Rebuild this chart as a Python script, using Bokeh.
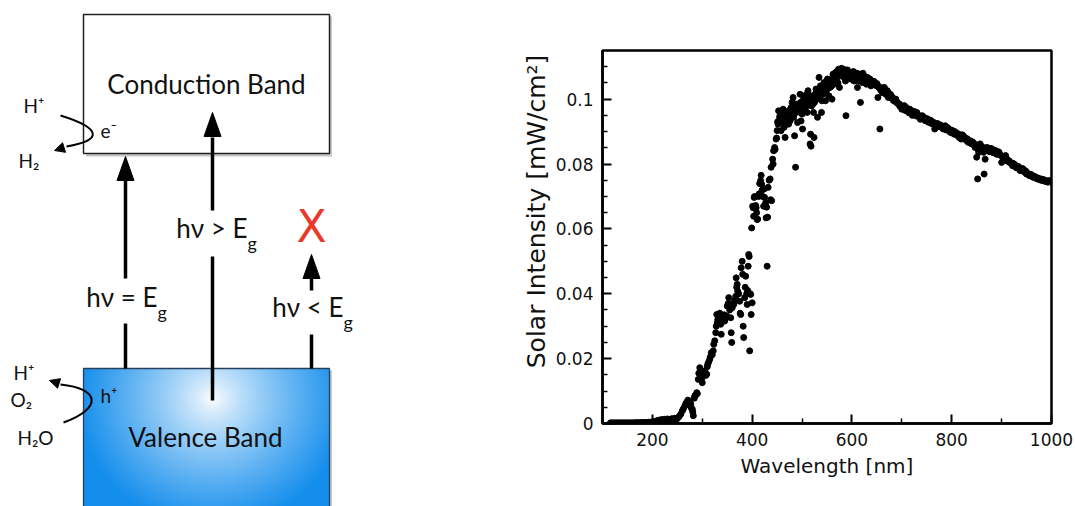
import numpy as np
from bokeh.plotting import figure
from bokeh.layouts import row
from bokeh.models import Range1d, FixedTicker
from bokeh.core.properties import value
from bokeh.embed import file_html
from bokeh.resources import INLINE

# ---------------- chart data ----------------
A_nm = [116, 120, 124, 128, 132, 136, 140, 144, 148, 152,
        156, 160, 164, 168, 172, 176, 180, 184, 188, 192,
        196, 200, 204, 208, 212, 215, 218, 221, 224, 227,
        230, 233, 236, 239, 242, 245, 248, 251, 254]
A_val = [0.0002, 0.0002, 0.0002, 0.0002, 0.0002, 0.0002, 0.0002, 0.0002, 0.0002, 0.0002,
         0.0002, 0.0002, 0.0002, 0.0003, 0.0002, 0.0003, 0.0003, 0.0003, 0.0003, 0.0004,
         0.0004, 0.0005, 0.0006, 0.0008, 0.0010, 0.0007, 0.0012, 0.0009, 0.0013, 0.0010,
         0.0014, 0.0011, 0.0012, 0.0015, 0.0010, 0.0016, 0.0012, 0.0018, 0.0022]

B_nm = [257, 260, 262, 265, 267, 269, 271, 273, 275, 277,
        278, 280, 281, 282, 284, 285, 287, 289, 290, 292,
        293, 295, 296, 297, 299]
B_val = [0.0029, 0.0039, 0.0045, 0.0054, 0.0062, 0.0065, 0.0072, 0.0070, 0.0058, 0.0060,
         0.0048, 0.0044, 0.0035, 0.0024, 0.0078, 0.0085, 0.0088, 0.0095, 0.0092, 0.0136,
         0.0155, 0.0172, 0.0165, 0.0152, 0.0140]

C_nm = [300, 302, 303, 305, 307, 309, 310, 311, 313, 315,
        316, 318, 320, 322, 323, 325, 327, 328, 329, 330,
        331, 333, 335, 336, 337, 338]
C_val = [0.0126, 0.0150, 0.0157, 0.0162, 0.0148, 0.0152, 0.0175, 0.0183, 0.0190, 0.0198,
         0.0205, 0.0218, 0.0212, 0.0224, 0.0244, 0.0255, 0.0280, 0.0300, 0.0336, 0.0310,
         0.0320, 0.0326, 0.0340, 0.0318, 0.0306, 0.0275]

D_nm = [340, 342, 344, 345, 347, 349, 350, 352, 353, 355,
        357, 358, 359, 360, 362, 363, 365, 367, 368, 369,
        370, 371, 373, 375, 376, 377, 378, 380, 381, 382,
        383, 385, 386, 387, 389, 390, 391, 392, 393, 394,
        395, 396, 397, 398, 399, 400]
D_val = [0.0330, 0.0321, 0.0335, 0.0316, 0.0325, 0.0331, 0.0362, 0.0370, 0.0388, 0.0350,
         0.0326, 0.0280, 0.0250, 0.0357, 0.0370, 0.0367, 0.0380, 0.0392, 0.0449, 0.0420,
         0.0429, 0.0408, 0.0400, 0.0377, 0.0340, 0.0336, 0.0480, 0.0500, 0.0460, 0.0300,
         0.0265, 0.0388, 0.0420, 0.0454, 0.0400, 0.0367, 0.0410, 0.0485, 0.0521, 0.0515,
         0.0224, 0.0400, 0.0398, 0.0336, 0.0603, 0.0372]

E_nm = [401, 402, 403, 404, 405, 407, 408, 409, 410, 411,
        413, 414, 415, 417, 418, 419, 420, 421, 423, 424,
        425, 427, 428, 429, 430, 431, 432, 434, 436, 437,
        438, 439]
E_val = [0.0670, 0.0665, 0.0639, 0.0697, 0.0700, 0.0672, 0.0665, 0.0650, 0.0629, 0.0630,
         0.0700, 0.0708, 0.0740, 0.0749, 0.0765, 0.0738, 0.0720, 0.0700, 0.0670, 0.0723,
         0.0697, 0.0680, 0.0634, 0.0667, 0.0485, 0.0636, 0.0728, 0.0750, 0.0754, 0.0690,
         0.0790, 0.0687]

F_nm = [441, 442, 443, 445, 446, 448, 449, 450, 451, 452,
        453, 455, 456, 458, 459, 461, 462, 463, 464, 466,
        467, 468, 470, 471, 473, 474, 476, 477, 478, 479]
F_val = [0.0815, 0.0800, 0.0841, 0.0851, 0.0845, 0.0877, 0.0880, 0.0903, 0.0930, 0.0923,
         0.0964, 0.0944, 0.0950, 0.0903, 0.0940, 0.0928, 0.0969, 0.0955, 0.0913, 0.0882,
         0.0935, 0.0949, 0.0945, 0.0959, 0.0923, 0.0965, 0.0933, 0.0950, 0.0974, 0.0960]

G_nm = [480, 482, 483, 484, 485, 486, 487, 488, 489, 491,
        492, 493, 495, 496, 497, 498, 499, 500, 501, 502,
        503, 505, 506, 507, 508, 509, 510, 511, 512, 514,
        516, 517, 518, 519]
G_val = [0.0990, 0.1005, 0.0944, 0.0975, 0.0887, 0.0970, 0.0790, 0.0985, 0.0959, 0.0928,
         0.0964, 0.0985, 0.0974, 0.1015, 0.0990, 0.0933, 0.0965, 0.0954, 0.0908, 0.0980,
         0.1000, 0.0985, 0.1010, 0.0974, 0.0995, 0.1015, 0.0959, 0.0990, 0.1026, 0.1000,
         0.0862, 0.0892, 0.0855, 0.0979]

H_nm = [520, 521, 522, 523, 524, 525, 526, 527, 528, 529,
        530, 531, 532, 534, 535, 536, 537, 538, 539, 540,
        541, 542, 543, 544, 545, 546, 547, 548, 549, 550,
        551, 552, 553, 554, 555, 556, 557, 558, 559, 560]
H_val = [0.1010, 0.1000, 0.0985, 0.0959, 0.0882, 0.0990, 0.1015, 0.1000, 0.1031, 0.1020,
         0.1000, 0.0944, 0.1010, 0.1067, 0.1010, 0.1030, 0.1041, 0.1020, 0.0959, 0.0995,
         0.1025, 0.1015, 0.1040, 0.1051, 0.1030, 0.1036, 0.0995, 0.1045, 0.1026, 0.1050,
         0.1062, 0.1040, 0.1046, 0.1010, 0.1055, 0.1036, 0.1060, 0.1056, 0.1040, 0.1000]

I_nm = [562, 563, 564, 566, 567, 568, 569, 570, 571, 572,
        573, 574, 575, 576, 578, 579, 580, 581, 583, 584,
        585, 586, 587, 588, 589, 590, 591, 592, 593, 594,
        595, 597, 598, 599, 600, 601, 603, 604, 605, 606,
        607, 608, 610, 611, 612, 613, 614, 615, 616, 617,
        618, 619, 620]
I_val = [0.1077, 0.1060, 0.1046, 0.1070, 0.1082, 0.1065, 0.1062, 0.1085, 0.1072, 0.1050,
         0.1092, 0.1075, 0.1036, 0.1080, 0.1077, 0.1095, 0.1087, 0.1070, 0.1092, 0.1080,
         0.1077, 0.1090, 0.1056, 0.0949, 0.1070, 0.1082, 0.1090, 0.1067, 0.1085, 0.1077,
         0.1065, 0.1062, 0.1080, 0.1082, 0.1070, 0.1072, 0.1085, 0.1056, 0.1075, 0.1077,
         0.1060, 0.1067, 0.1080, 0.1036, 0.1065, 0.1056, 0.1070, 0.1077, 0.1060, 0.0990,
         0.1075, 0.1067, 0.1055]

J_nm = [621, 622, 624, 625, 626, 627, 629, 630, 631, 632,
        633, 635, 636, 637, 638, 639, 640, 641, 643, 644,
        645, 647, 649, 650, 652, 653, 654, 656, 657, 659,
        660, 661, 663, 664, 665, 667, 668, 670, 671, 672,
        673, 675, 677, 678, 679, 681, 682, 684, 686, 688,
        689, 691, 693, 695, 696, 698, 700]
J_val = [0.1051, 0.1080, 0.1072, 0.1060, 0.1056, 0.1068, 0.1046, 0.1060, 0.1067, 0.1055,
         0.1051, 0.1060, 0.1062, 0.1045, 0.1041, 0.1055, 0.1056, 0.1050, 0.1046, 0.1055,
         0.1051, 0.1045, 0.1041, 0.1048, 0.1005, 0.1040, 0.1036, 0.0908, 0.1030, 0.1026,
         0.1035, 0.1020, 0.1021, 0.1030, 0.1036, 0.1020, 0.1015, 0.1025, 0.1026, 0.1010,
         0.1005, 0.1015, 0.1015, 0.1005, 0.1010, 0.1005, 0.0998, 0.0995, 0.1000, 0.1000,
         0.0990, 0.0990, 0.0985, 0.0985, 0.0978, 0.0980, 0.0969]

K_nm = [702, 705, 707, 709, 711, 712, 714, 716, 718, 720,
        721, 723, 725, 727, 729, 730, 732, 734, 736, 737,
        739, 741, 742, 744, 746, 748, 750, 752, 753, 755,
        757, 759, 760, 762, 764, 766, 767, 769, 771, 773,
        775, 776, 778, 780, 782, 783, 785, 787, 789, 791,
        792, 794, 796, 798, 799]
K_val = [0.0975, 0.0980, 0.0965, 0.0974, 0.0970, 0.0964, 0.0958, 0.0969, 0.0960, 0.0964,
         0.0950, 0.0959, 0.0962, 0.0954, 0.0948, 0.0959, 0.0952, 0.0949, 0.0945, 0.0938,
         0.0946, 0.0949, 0.0940, 0.0944, 0.0935, 0.0933, 0.0940, 0.0938, 0.0930, 0.0928,
         0.0935, 0.0933, 0.0925, 0.0923, 0.0928, 0.0908, 0.0920, 0.0918, 0.0925, 0.0923,
         0.0915, 0.0918, 0.0920, 0.0913, 0.0916, 0.0908, 0.0912, 0.0918, 0.0905, 0.0908,
         0.0912, 0.0903, 0.0900, 0.0897, 0.0905]

L_nm = [801, 803, 805, 806, 808, 810, 812, 813, 815, 817,
        819, 821, 823, 824, 826, 828, 830, 831, 833, 835,
        837, 838, 840, 842, 844, 845, 847, 848, 850, 852,
        853, 854, 856, 857, 859, 860, 862, 864, 865, 866,
        867, 869, 871, 872, 874, 876, 878, 879, 881, 883,
        885, 886, 888, 890, 892, 893, 895, 897, 899]
L_val = [0.0903, 0.0895, 0.0892, 0.0900, 0.0897, 0.0890, 0.0887, 0.0893, 0.0882, 0.0885,
         0.0877, 0.0890, 0.0887, 0.0880, 0.0882, 0.0875, 0.0872, 0.0878, 0.0867, 0.0870,
         0.0872, 0.0865, 0.0862, 0.0868, 0.0862, 0.0858, 0.0851, 0.0860, 0.0821, 0.0754,
         0.0845, 0.0836, 0.0850, 0.0862, 0.0855, 0.0851, 0.0845, 0.0836, 0.0769, 0.0850,
         0.0815, 0.0848, 0.0851, 0.0842, 0.0846, 0.0838, 0.0841, 0.0848, 0.0846, 0.0835,
         0.0836, 0.0842, 0.0841, 0.0830, 0.0831, 0.0838, 0.0836, 0.0828, 0.0826]

M_nm = [900, 902, 904, 906, 908, 909, 911, 913, 915, 916,
        918, 920, 922, 923, 925, 927, 929, 930, 932, 934,
        936, 937, 939, 941, 943, 945, 947, 948, 950, 952,
        954, 955, 957, 959, 961, 962, 964, 966, 968, 970,
        972, 973, 975, 977, 979, 981, 982, 984, 986, 988,
        989, 991, 993, 995, 996, 998]
M_val = [0.0805, 0.0822, 0.0815, 0.0820, 0.0826, 0.0812, 0.0815, 0.0808, 0.0810, 0.0805,
         0.0805, 0.0800, 0.0795, 0.0802, 0.0800, 0.0792, 0.0795, 0.0788, 0.0790, 0.0792,
         0.0785, 0.0780, 0.0780, 0.0786, 0.0785, 0.0776, 0.0774, 0.0779, 0.0769, 0.0772,
         0.0769, 0.0765, 0.0764, 0.0768, 0.0764, 0.0760, 0.0759, 0.0762, 0.0759, 0.0755,
         0.0754, 0.0757, 0.0754, 0.0751, 0.0754, 0.0750, 0.0749, 0.0752, 0.0749, 0.0746,
         0.0749, 0.0747, 0.0744, 0.0746, 0.0749, 0.0745]

x_major_ticks = [200, 400, 600, 800, 1000]
x_minor_ticks = [100, 300, 500, 700, 900]
y_major_ticks = [0, 0.02, 0.04, 0.06, 0.08, 0.1]
y_tick_labels = ["0", "0.02", "0.04", "0.06", "0.08", "0.1"]
y_minor_ticks = [0.005, 0.01, 0.015, 0.025, 0.03, 0.035, 0.045, 0.05, 0.055,
                 0.065, 0.07, 0.075, 0.085, 0.09, 0.095, 0.105, 0.11]
x_title = "Wavelength [nm]"
y_title = "Solar Intensity [mW/cm²]"

# ---------------- diagram texts ----------------
band_names = ["Conduction Band", "Valence Band"]
photon_texts = ["hν = E", "hν > E", "hν < E"]
gap_subscript = "g"
side_species = ["H⁺", "e⁻", "H₂", "H⁺", "O₂", "h⁺", "H₂O"]

wavelength_nm = (A_nm + B_nm + C_nm + D_nm + E_nm + F_nm + G_nm + H_nm
                 + I_nm + J_nm + K_nm + L_nm + M_nm)
intensity = (A_val + B_val + C_val + D_val + E_val + F_val + G_val + H_val
             + I_val + J_val + K_val + L_val + M_val)

# ---------------- page geometry ----------------
PAGE_H = 506
FRAME_TOP, FRAME_BOTTOM = 50, 423          # shared frame rows of both panels
LEFT_W, RIGHT_W = 520, 555

# ============ left: band diagram (1 unit = 1 pixel; Y() converts page rows) ============
def Y(v):
    return PAGE_H - v

BASE_FIX = 0.42   # raise text so its alphabetic baseline lands on the wanted row
def TY(v, size):
    return Y(v - BASE_FIX * size)

d = figure(width=LEFT_W, height=PAGE_H,
           x_range=Range1d(0, LEFT_W), y_range=Range1d(Y(FRAME_BOTTOM), Y(FRAME_TOP)),
           x_axis_type=None, y_axis_type=None, output_backend="svg",
           toolbar_location=None, min_border_left=0, min_border_right=0,
           min_border_top=FRAME_TOP, min_border_bottom=PAGE_H - FRAME_BOTTOM,
           outline_line_color=None)
d.grid.visible = False

DFONT = "Lato"
INK = "#111111"
rends = []

# conduction band box with soft shadow
rends.append(d.quad(left=[85.5], right=[331.5], top=[Y(16)], bottom=[Y(156)],
                    fill_color="black", fill_alpha=0.22, line_color=None))
rends.append(d.quad(left=[83], right=[329], top=[Y(14)], bottom=[Y(153)],
                    fill_color="white", line_color="#222222", line_width=1.5))

# valence band box with radial gradient
rends.append(d.quad(left=[85.5], right=[331.5], top=[Y(370)], bottom=[Y(520)],
                    fill_color="black", fill_alpha=0.22, line_color=None))
GW, GH = 246, 138
gx = 83 + np.arange(GW) + 0.5
gy = PAGE_H - (np.arange(GH) + 0.5)
XX, YY = np.meshgrid(gx, gy)
dist = np.hypot(XX - 212, (YY - 398) * 1.05)
t = np.clip(dist / 135.0, 0, 1) ** 0.8
edge = (20, 142, 236)
img = np.empty((GH, GW), dtype=np.uint32)
view = img.view(dtype=np.uint8).reshape((GH, GW, 4))
for k in range(3):
    view[:, :, k] = np.round(255 * (1 - t) + edge[k] * t).astype(np.uint8)
view[:, :, 3] = 255
rends.append(d.image_rgba(image=[img], x=83, y=0, dw=GW, dh=GH))
rends.append(d.quad(left=[83], right=[329], top=[Y(368)], bottom=[Y(520)],
                    fill_color=None, line_color="#24405e", line_width=1.3))

# vertical photon arrows (interrupted by their labels)
seg_x = [125, 125, 212, 212, 311, 311]
seg_y0 = [368, 278, 400, 210, 368, 290]
seg_y1 = [323, 180, 256, 137, 334, 276]
rends.append(d.segment(x0=seg_x, y0=[Y(v) for v in seg_y0], x1=seg_x,
                       y1=[Y(v) for v in seg_y1], line_color="black", line_width=3.5))

def head(tx, ty, ux, uy, L, w):
    n = np.hypot(ux, uy); ux, uy = ux / n, uy / n
    bx, by = tx - L * ux, ty - L * uy
    px, py = -uy, ux
    return [tx, bx + w * px, bx - w * px], [ty, by + w * py, by - w * py]

heads_x, heads_y = [], []
for (hx, tip) in [(125, 156), (212, 112), (311, 254)]:
    xs, ys = head(hx, Y(tip), 0, 1, 24, 8.5)
    heads_x.append(xs); heads_y.append(ys)
rends.append(d.patches(xs=heads_x, ys=heads_y, fill_color="black",
                       line_color="black", line_width=1))

# curved reaction arrows
rends.append(d.bezier(x0=[60, 63], y0=[Y(115), Y(422)], x1=[66, 60], y1=[Y(146), Y(384)],
                      cx0=[102, 102], cy0=[Y(128), Y(408)], cx1=[102, 100],
                      cy1=[Y(140), Y(388)], line_color="black", line_width=2))
cx, cy = [], []
xs, ys = head(54, Y(150), -13, -4, 10, 5)
cx.append(xs); cy.append(ys)
xs, ys = head(49, Y(380), -13, 4, 10, 5)
cx.append(xs); cy.append(ys)
rends.append(d.patches(xs=cx, ys=cy, fill_color="black", line_color="black", line_width=1))

# band names
rends.append(d.text(x=[206, 205], y=[TY(94, 26), TY(447, 26)], text=band_names,
                    text_align="center", text_baseline="alphabetic",
                    text_font=value(DFONT), text_font_size="26px", text_color=INK))

# photon labels with subscript g
rends.append(d.text(x=[157, 247, 343], y=[TY(307, 26), TY(238, 26), TY(317, 26)],
                    text=photon_texts, text_align="right", text_baseline="alphabetic",
                    text_font=value(DFONT), text_font_size="26px", text_color=INK))
rends.append(d.text(x=[157, 247, 343], y=[TY(319, 18), TY(250, 18), TY(329, 18)],
                    text=[gap_subscript] * 3, text_align="left", text_baseline="alphabetic",
                    text_font=value(DFONT), text_font_size="18px", text_color=INK))

# red X (forbidden transition)
rends.append(d.text(x=[311], y=[Y(242 - 16)], text=["X"], text_align="center",
                    text_baseline="alphabetic", text_font=value("DejaVu Sans"),
                    text_font_size="44px", text_color="#e8392b"))

# side species
sp_rows = [113, 138, 168, 380, 407, 403, 445]
rends.append(d.text(x=[23, 100, 18, 13, 10, 100, 17],
                    y=[TY(v, 19) for v in sp_rows],
                    text=side_species, text_align="left", text_baseline="alphabetic",
                    text_font=value(DFONT), text_font_size="19px", text_color=INK))

for r in rends:
    r.level = "overlay"

# ============ right: solar spectrum scatter ============
X0, X1, Y0, Y1 = 100, 1000, 0, 0.115
p = figure(width=RIGHT_W, height=PAGE_H, x_range=Range1d(X0, X1), y_range=Range1d(Y0, Y1),
           output_backend="svg", toolbar_location=None,
           min_border_left=82, min_border_right=24, min_border_top=FRAME_TOP,
           min_border_bottom=PAGE_H - FRAME_BOTTOM)
p.grid.visible = False
p.outline_line_color = "black"
p.outline_line_width = 2.5
p.scatter(x=wavelength_nm, y=intensity, size=6, color="black", marker="circle")

p.xaxis.ticker = FixedTicker(ticks=x_major_ticks, minor_ticks=x_minor_ticks)
p.yaxis.ticker = FixedTicker(ticks=y_major_ticks, minor_ticks=y_minor_ticks)
p.yaxis.major_label_overrides = {tv: tl for tv, tl in zip(y_major_ticks, y_tick_labels)}
for ax in (p.xaxis[0], p.yaxis[0]):
    ax.axis_line_width = 2.5
    ax.axis_line_color = "black"
    ax.major_tick_in = 9
    ax.major_tick_out = 0
    ax.minor_tick_in = 5
    ax.minor_tick_out = 0
    ax.major_tick_line_width = 2
    ax.minor_tick_line_width = 1.5
    ax.major_tick_line_color = "black"
    ax.minor_tick_line_color = "black"
    ax.major_label_text_font = "DejaVu Sans"
    ax.major_label_text_font_size = "17px"
    ax.major_label_text_color = INK
    ax.major_label_standoff = 9
p.xaxis.axis_label = x_title
p.xaxis.axis_label_text_font = "DejaVu Sans"
p.xaxis.axis_label_text_font_size = "20px"
p.xaxis.axis_label_text_font_style = "normal"
p.xaxis.axis_label_text_color = INK
p.xaxis.axis_label_standoff = 5

# y-axis title: 66 px left of the frame, centred 212 px above its bottom edge
frame_w = RIGHT_W - 82 - 24
frame_h = FRAME_BOTTOM - FRAME_TOP
title_x = X0 - 66 * (X1 - X0) / frame_w
title_y = Y0 + 212 * (Y1 - Y0) / frame_h
yt = p.text(x=[title_x], y=[title_y], text=[y_title], angle=np.pi / 2,
            text_align="center", text_baseline="middle", text_font=value("DejaVu Sans"),
            text_font_size="25px", text_color=INK)
yt.level = "overlay"

layout = row(d, p)
open("out.html", "w").write(file_html(layout, INLINE))
